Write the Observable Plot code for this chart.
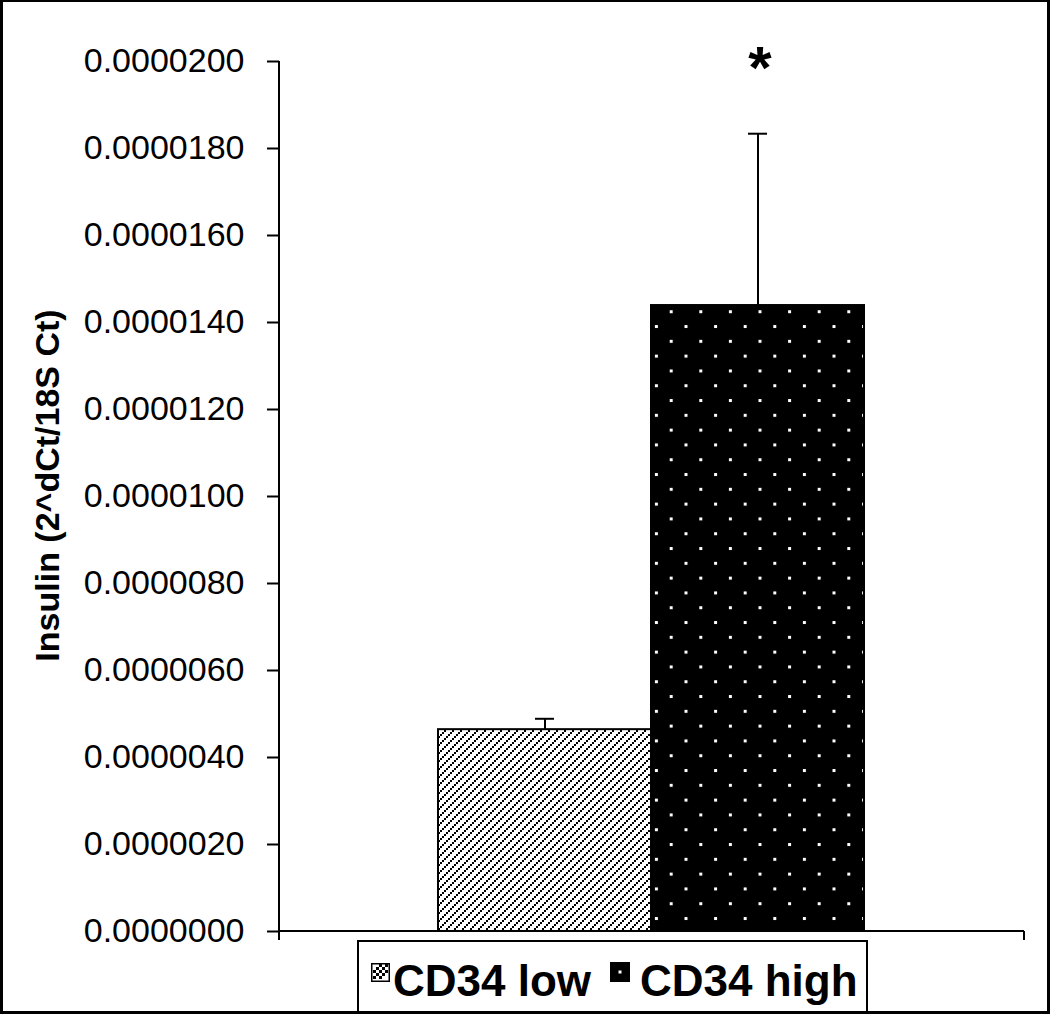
<!DOCTYPE html>
<html>
<head>
<meta charset="utf-8">
<script src="https://cdn.jsdelivr.net/npm/d3@7"></script>
<script src="https://cdn.jsdelivr.net/npm/@observablehq/plot@0.6"></script>
<style>
  html, body { margin: 0; padding: 0; background: #fff; }
  #page { position: relative; width: 1050px; height: 1014px; overflow: hidden; background: #fff;
          font-family: "Liberation Sans", Arial, Helvetica, sans-serif; color: #000; }
  #chart { position: absolute; left: 0; top: 0; }
  #border { position: absolute; left: 0; top: 0; width: 1050px; height: 1014px; box-sizing: border-box;
            border: 3px solid #000; border-top-width: 2px; pointer-events: none; }
  #legend { position: absolute; left: 357px; top: 940px; width: 511px; height: 73px; box-sizing: border-box;
            border: 2px solid #000; background: #fff; }
  #legend .sw { position: absolute; }
  #legend .lt { position: absolute; font-size: 44px; font-weight: bold; line-height: 1; white-space: nowrap; }
</style>
</head>
<body>
<div id="page">
  <div id="chart"></div>
  <div id="legend"></div>
  <div id="border"></div>
</div>
<script>
// ---- data ----
const groups = ["CD34 low", "CD34 high"];
const means = [4.64e-6, 14.39e-6];
const errors = [0.25e-6, 3.95e-6];
const significance = ["", "*"];
const yTicks = [0, 2e-6, 4e-6, 6e-6, 8e-6, 10e-6, 12e-6, 14e-6, 16e-6, 18e-6, 20e-6];
const yLabel = "Insulin (2^dCt/18S Ct)";
const patternIds = ["hatchLow", "dotsHigh"];

const data = groups.map((g, i) => ({group: g, value: means[i], err: errors[i], sig: significance[i], pat: patternIds[i]}));

function axisLines(index, scales, values, dims) {
  const {width, marginLeft, marginRight, marginTop} = dims;
  const y0 = scales.y(0);
  const g = d3.create("svg:g").attr("stroke", "#000").attr("stroke-width", 2).attr("fill", "none");
  g.append("line").attr("x1", marginLeft).attr("x2", marginLeft).attr("y1", marginTop).attr("y2", y0 + 9);
  g.append("line").attr("x1", marginLeft).attr("x2", width - marginRight).attr("y1", y0).attr("y2", y0);
  g.append("line").attr("x1", width - marginRight).attr("x2", width - marginRight).attr("y1", y0).attr("y2", y0 + 9);
  return g.node();
}

const chart = Plot.plot({
  width: 1050,
  height: 1014,
  marginTop: 61,
  marginBottom: 83,
  marginLeft: 279,
  marginRight: 26,
  x: {domain: groups, range: [437, 864], padding: 0, axis: null},
  y: {domain: [0, 2e-5], axis: null},
  style: {fontFamily: '"Liberation Sans", Arial, sans-serif', color: "#000", background: "white"},
  marks: [
    Plot.barY(data, {filter: d => d.group === groups[0], x: "group", y: "value", fill: "url(#hatchLow)", stroke: "#000", strokeWidth: 2}),
    Plot.barY(data, {filter: d => d.group === groups[1], x: "group", y: "value", fill: "url(#dotsHigh)", stroke: "#000", strokeWidth: 2}),
    Plot.ruleX(data, {x: "group", y1: "value", y2: d => d.value + d.err, stroke: "#000", strokeWidth: 2}),
    Plot.tickY(data, {x: "group", y: d => d.value + d.err, stroke: "#000", strokeWidth: 2, insetLeft: 97, insetRight: 97}),
    Plot.text(data.filter(d => d.sig), {x: "group", y: () => yTicks[yTicks.length - 1], text: "sig", fontSize: 60, fontWeight: "bold", dy: 7, dx: 2, fill: "#000"}),
    Plot.axisY({ticks: yTicks, label: null, tickFormat: d => d.toFixed(7), tickSize: 12, tickPadding: 23, fontSize: 34, strokeWidth: 2, fill: "#000", stroke: "#000"}),
    Plot.text([yLabel], {frameAnchor: "left", textAnchor: "middle", rotate: -90, dx: -231, dy: -11, fontSize: 34, fontWeight: "bold", fill: "#000"}),
    axisLines
  ]
});

// patterns
const xs = chart.scale("x"), ys = chart.scale("y");
const defs = d3.select(chart).insert("defs", ":first-child");
const pl = defs.append("pattern").attr("id", "hatchLow").attr("patternUnits", "userSpaceOnUse")
  .attr("width", 8).attr("height", 8);
pl.append("rect").attr("width", 8).attr("height", 8).attr("fill", "#fff");
[[0, 6], [2, 4], [4, 2], [6, 0]].forEach(([a, b]) => pl.append("rect").attr("x", a).attr("y", b).attr("width", 2).attr("height", 2).attr("fill", "#000"));

const hx = xs.apply(groups[1]) + 18.7, hy = ys.apply(means[1]) + 5.2;
const ph = defs.append("pattern").attr("id", "dotsHigh").attr("patternUnits", "userSpaceOnUse")
  .attr("x", hx).attr("y", hy).attr("width", 29.6).attr("height", 29.6);
ph.append("rect").attr("width", 29.6).attr("height", 29.6).attr("fill", "#000");
ph.append("rect").attr("x", 0).attr("y", 0).attr("width", 3).attr("height", 3).attr("fill", "#fff");
ph.append("rect").attr("x", 14.8).attr("y", 14.8).attr("width", 3).attr("height", 3).attr("fill", "#fff");

document.getElementById("chart").appendChild(chart);

// legend
const legend = d3.select("#legend");
const sw1 = legend.append("svg").attr("class", "sw").attr("width", 19).attr("height", 19)
  .style("left", "12px").style("top", "21px");
sw1.append("rect").attr("x", 0.75).attr("y", 0.75).attr("width", 17.5).attr("height", 17.5).attr("fill", "#fff").attr("stroke", "#000").attr("stroke-width", 1.5);
[[2,13],[5,10],[8,7],[11,4],[14,1],[8,13],[11,10],[14,7],[2,7],[5,4],[8,1]].forEach(([a,b]) =>
  sw1.append("rect").attr("x", a).attr("y", b).attr("width", 3).attr("height", 3).attr("fill", "#000"));
legend.append("div").attr("class", "lt").style("left", "34px").style("top", "17px").text(groups[0]);
const sw2 = legend.append("svg").attr("class", "sw").attr("width", 20).attr("height", 20)
  .style("left", "251px").style("top", "20px");
sw2.append("rect").attr("width", 20).attr("height", 20).attr("fill", "#000");
sw2.append("rect").attr("x", 8.5).attr("y", 8.5).attr("width", 3).attr("height", 3).attr("fill", "#fff");
legend.append("div").attr("class", "lt").style("left", "281px").style("top", "17px").text(groups[1]);
</script>
</body>
</html>
